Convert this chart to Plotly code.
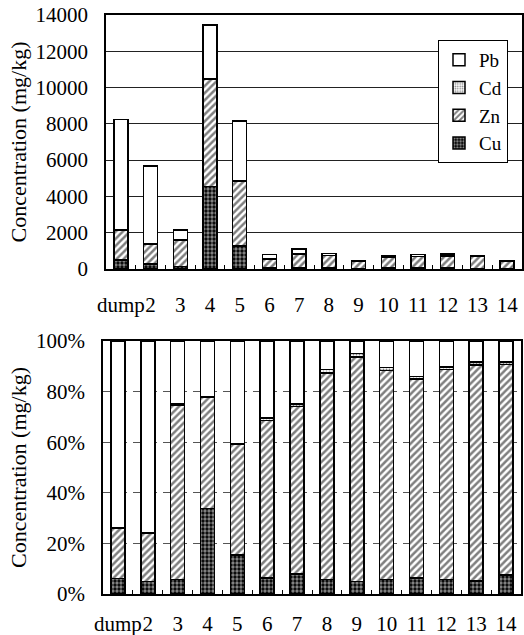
import plotly.graph_objects as go

categories = ["dump", "2", "3", "4", "5", "6", "7", "8", "9", "10", "11", "12", "13", "14"]
cu = [500, 280, 125, 4550, 1265, 50, 88, 48, 24, 42, 50, 46, 38, 36]
zn = [1630, 1080, 1480, 5900, 3550, 499, 728, 695, 426, 603, 630, 677, 641, 399]
cd = [20, 15, 10, 40, 25, 8, 10, 11, 6, 9, 8, 9, 9, 5]
pb = [6100, 4300, 535, 2960, 3320, 243, 274, 96, 24, 76, 112, 83, 62, 40]

series = [("Cu", cu), ("Zn", zn), ("Cd", cd), ("Pb", pb)]
legend_order = {"Pb": 1, "Cd": 2, "Zn": 3, "Cu": 4}
totals = [a + b + c + d for a, b, c, d in zip(cu, zn, cd, pb)]

patterns = {
    "Cu": dict(shape=".", fgcolor="white", bgcolor="black", size=4, solidity=0.55),
    "Zn": dict(shape="/", fgcolor="black", bgcolor="white", size=5, solidity=0.5),
    "Cd": dict(shape=".", fgcolor="black", bgcolor="white", size=3, solidity=0.35),
    "Pb": dict(shape="", fgcolor="black", bgcolor="white"),
}

FONT = "Liberation Serif, Times New Roman, serif"
fig = go.Figure()
for name, vals in series:
    fig.add_trace(go.Bar(
        x=categories, y=vals, name=name, xaxis="x", yaxis="y",
        marker=dict(color="white", line=dict(color="black", width=1.5),
                    pattern=patterns[name]),
        legendrank=legend_order[name],
    ))
for name, vals in series:
    pct = [100.0 * v / t for v, t in zip(vals, totals)]
    fig.add_trace(go.Bar(
        x=categories, y=pct, name=name, xaxis="x2", yaxis="y2", showlegend=False,
        marker=dict(color="white", line=dict(color="black", width=1.5),
                    pattern=patterns[name]),
    ))

W, H = 524, 635
axis_common = dict(showline=True, linecolor="black", linewidth=1.5, mirror=True,
                   automargin=False,
                   tickfont=dict(family=FONT, size=21, color="black"))

fig.update_layout(
    width=W, height=H, margin=dict(l=0, r=0, t=0, b=0, autoexpand=False),
    paper_bgcolor="white", plot_bgcolor="white",
    barmode="stack", bargap=0.53,
    font=dict(family=FONT, size=21, color="black"),
    xaxis=dict(domain=[106 / W, 522 / W], anchor="y", type="category",
               tickangle=0, ticks="inside", tickson="boundaries", ticklen=4,
               tickcolor="black", showgrid=False, ticklabelstandoff=16, **axis_common),
    yaxis=dict(domain=[1 - 269 / H, 1 - 15 / H], anchor="x", range=[0, 14000], dtick=2000,
               tickformat="d",
               showgrid=True, gridcolor="#222222", gridwidth=1, griddash="solid",
               zeroline=False, ticks="", ticklabelstandoff=12,
               title=dict(text="Concentration (mg/kg)", font=dict(family=FONT, size=22), standoff=3),
               **axis_common),
    xaxis2=dict(domain=[103 / W, 521 / W], anchor="y2", type="category",
                tickangle=0, ticks="inside", tickson="boundaries", ticklen=4,
                tickcolor="black", showgrid=False, ticklabelstandoff=10, **axis_common),
    yaxis2=dict(domain=[1 - 594 / H, 1 - 341 / H], anchor="x2", range=[0, 100], dtick=20,
                ticksuffix="%", showgrid=True, gridcolor="#555555", gridwidth=1,
                griddash="longdashdot", zeroline=False, ticks="", ticklabelstandoff=12,
                title=dict(text="Concentration (mg/kg)", font=dict(family=FONT, size=22), standoff=3),
                **axis_common),
    legend=dict(x=438 / W, y=1 - 40 / H, xanchor="left", yanchor="top",
                traceorder="normal",
                bgcolor="white", bordercolor="black", borderwidth=1,
                font=dict(family=FONT, size=19, color="black"), itemwidth=30,
                tracegroupgap=0),
)

fig.write_html("out.html")
